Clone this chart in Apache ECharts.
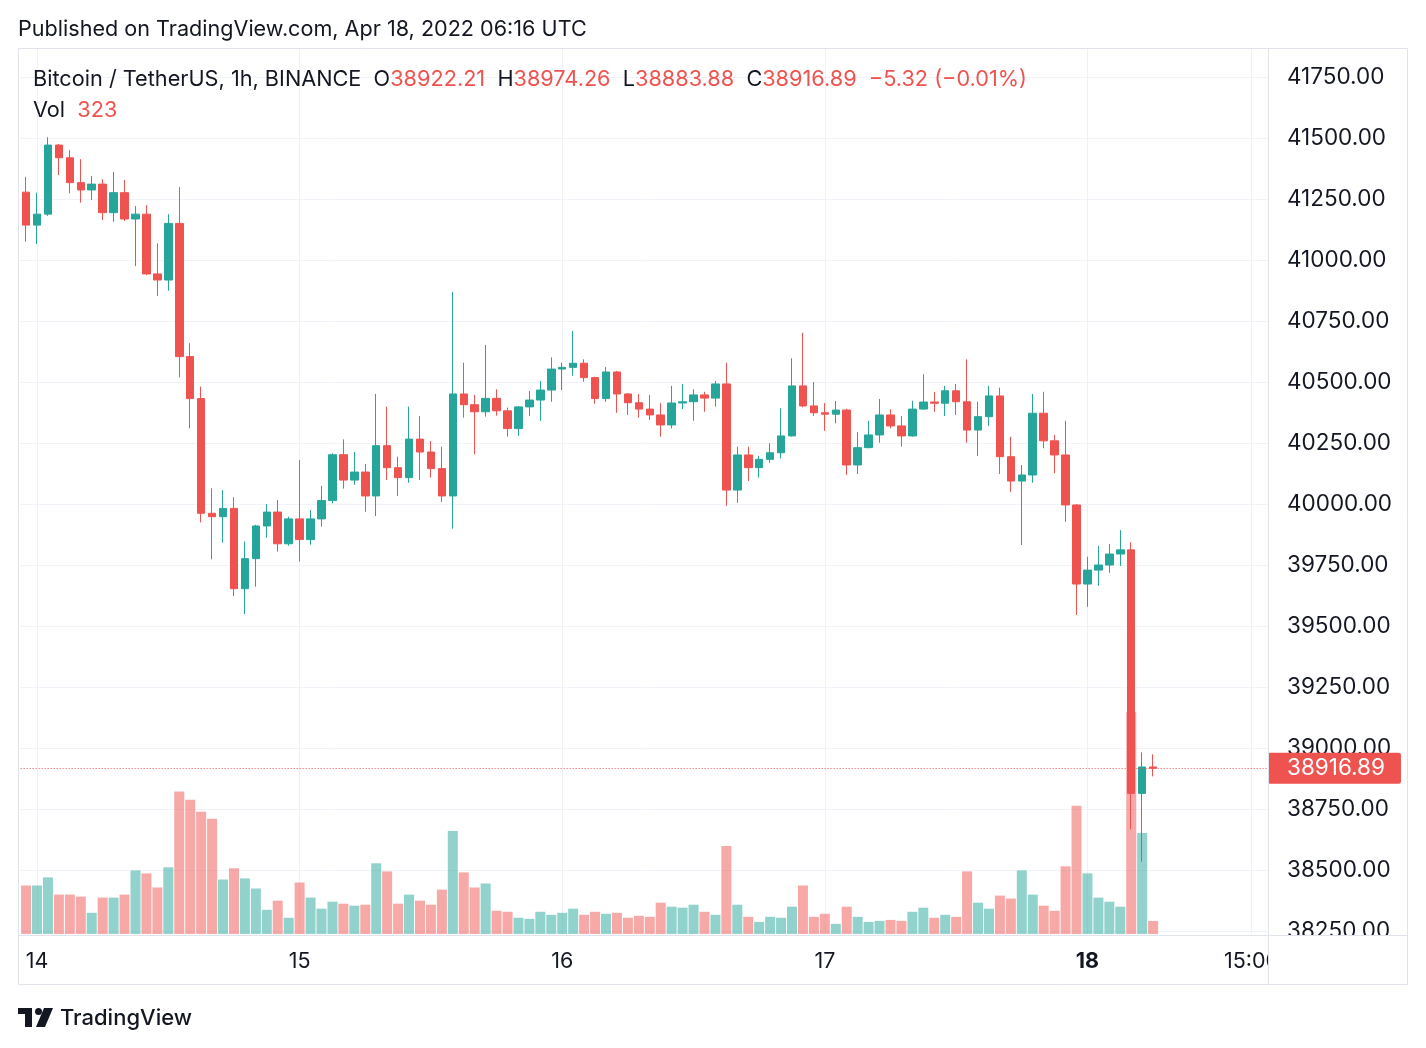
<!DOCTYPE html>
<html><head><meta charset="utf-8">
<script src="https://cdn.jsdelivr.net/npm/echarts@6/dist/echarts.min.js"></script>
<style>html,body{margin:0;padding:0;background:#fff}#c{width:1426px;height:1048px}</style>
</head><body><div id="c"></div>
<script>
// ---- DATA (Bitcoin / TetherUS 1h, 13 Apr 23:00 -> 18 Apr 06:00 UTC) ----
const open = [41278,41143,41188,41471,41419,41317,41287,41311,41194,41276,41168,41188,40943,40918,41150,40604,40432,39962,39948,39982,39653,39776,39910,39967,39837,39939,39854,39939,40014,40202,40098,40131,40033,40239,40149,40108,40266,40213,40145,40033,40451,40407,40378,40433,40382,40309,40398,40426,40467,40553,40560,40577,40518,40432,40541,40451,40415,40389,40365,40324,40414,40419,40447,40434,40492,40057,40201,40149,40183,40210,40279,40484,40402,40374,40368,40385,40160,40231,40283,40365,40320,40279,40389,40418,40413,40464,40419,40303,40358,40443,40194,40094,40119,40372,40259,40201,39996,39672,39729,39750,39795,39812,38814,38922.21];
const close = [41143,41188,41471,41419,41317,41287,41311,41194,41276,41168,41188,40943,40918,41150,40604,40432,39962,39948,39982,39653,39776,39910,39967,39837,39939,39854,39939,40014,40202,40098,40131,40033,40239,40149,40108,40266,40213,40145,40033,40451,40407,40378,40433,40382,40309,40398,40426,40467,40553,40560,40577,40518,40432,40541,40451,40415,40389,40365,40324,40414,40419,40447,40434,40492,40057,40201,40149,40183,40210,40279,40484,40402,40374,40368,40385,40160,40231,40283,40365,40320,40279,40389,40418,40413,40464,40419,40303,40358,40443,40194,40094,40119,40372,40259,40201,39996,39672,39729,39750,39795,39812,38814,38922.21,38916.89];
const low = [41075,41066,41180,41348,41273,41235,41246,41164,41157,41160,40975,40938,40852,40874,40519,40310,39925,39773,39841,39623,39549,39661,39862,39805,39829,39764,39833,39907,40003,40063,40079,39968,39951,40098,40033,40087,40098,40108,40008,39899,40354,40204,40358,40362,40276,40280,40361,40341,40419,40467,40526,40501,40411,40419,40374,40365,40354,40344,40276,40310,40389,40341,40378,40399,39993,40005,40094,40108,40169,40187,40276,40396,40361,40300,40331,40119,40123,40228,40251,40310,40235,40276,40386,40378,40361,40365,40251,40197,40320,40123,40050,39832,40087,40228,40126,39927,39545,39579,39665,39718,39746,38667,38534,38883.88];
const high = [41341,41276,41503,41475,41451,41413,41344,41331,41361,41328,41221,41225,41068,41188,41299,40659,40481,40064,40057,40028,39846,39915,40000,40016,39948,40180,39975,40074,40208,40265,40213,40164,40451,40399,40194,40399,40361,40258,40235,40869,40579,40447,40652,40470,40395,40402,40463,40504,40601,40579,40709,40593,40522,40561,40545,40455,40451,40447,40413,40484,40492,40470,40460,40504,40579,40235,40235,40197,40249,40392,40597,40702,40500,40413,40422,40390,40294,40341,40430,40388,40361,40423,40532,40460,40484,40492,40593,40419,40484,40477,40276,40160,40451,40460,40283,40341,40000,39784,39828,39836,39893,39843,38982,38974.26];
const volume = [1205,1205,1407,979,979,929,527,905,905,979,1580,1506,1156,1658,3539,3337,3037,2863,1354,1633,1382,1131,601,828,403,1280,905,629,803,753,703,728,1757,1556,753,979,828,728,1103,2560,1531,1156,1255,577,552,403,378,552,477,527,629,477,552,502,527,403,452,427,778,678,654,728,552,477,2184,728,427,301,427,403,678,1205,427,502,251,678,427,301,326,350,326,552,654,403,477,427,1556,778,629,954,880,1580,979,703,577,1682,3188,1506,905,803,678,5517,2510,323];
const priceTicks = [38250,38500,38750,39000,39250,39500,39750,40000,40250,40500,40750,41000,41250,41500,41750];
const tickCategories = ['14 00:00','15 00:00','16 00:00','17 00:00','18 00:00','18 15:00'];
const tickTexts = ['14','15','16','17','18','15:00'];
const symbolName = 'Bitcoin / TetherUS, 1h, BINANCE';
const lastVolume = 323;

// hourly category axis: 13 Apr 23:00 .. 18 Apr 16:00 (includes empty future slots)
const categories = [];
for (let i = 0; i < 114; i++) {
  const t = 23 + i;
  categories.push((13 + Math.floor(t / 24)) + ' ' + String(t % 24).padStart(2, '0') + ':00');
}

const UP = '#26a69a', DOWN = '#ef5350';
const UPV = 'rgba(38,166,154,0.5)', DOWNV = 'rgba(239,83,80,0.5)';
const FONT = 'Inter, "Noto Sans", sans-serif';
const TXT = '#131722';
const AX = 22.5;   // axis font size
const LG = 21.7;   // legend font size

const candles = open.map((o, i) => [o, close[i], low[i], high[i]]);
const vols = volume.map((v, i) => ({ value: v, itemStyle: { color: close[i] >= open[i] ? UPV : DOWNV } }));
const n = open.length;
const lastO = open[n-1], lastH = high[n-1], lastL = low[n-1], lastC = close[n-1];
const chg = lastC - lastO, chgPct = chg / lastO * 100;
const fmtSigned = v => (v < 0 ? '\u2212' : '+') + Math.abs(v).toFixed(2);

const chart = echarts.init(document.getElementById('c'), null, { renderer: 'canvas' });

const GL = 20.6, GR = 158, GT = 48;
const option = {
  animation: false,
  backgroundColor: '#ffffff',
  grid: [
    { left: GL, right: GR, top: GT, bottom: 1048 - 931 },
    { left: GL, right: GR, top: GT, bottom: 1048 - 934 }
  ],
  xAxis: [
    { type: 'category', gridIndex: 0, data: categories, boundaryGap: true,
      axisLine: { show: false }, axisTick: { show: false }, axisLabel: { show: false }, splitLine: { show: false } },
    { type: 'category', gridIndex: 1, data: categories, boundaryGap: true,
      axisLine: { show: false }, axisTick: { show: false }, splitLine: { show: false },
      axisLabel: {
        show: true, margin: 17, fontSize: 21.5, fontFamily: FONT, color: TXT,
        interval: (idx, val) => tickCategories.indexOf(val) >= 0,
        formatter: (val) => { const k = tickCategories.indexOf(val); const t = tickTexts[k]; return t === '18' ? '{b|' + t + '}' : t; },
        rich: { b: { fontWeight: 'bold', fontSize: 21.5, fontFamily: FONT, color: TXT } }
      } }
  ],
  yAxis: [
    { type: 'value', gridIndex: 0, position: 'right', min: priceTicks[0], max: 38250 + 883 / 0.244, interval: 250,
      axisLine: { show: false }, axisTick: { show: false },
      splitLine: { show: true, lineStyle: { color: '#f0f3fa', width: 1 } },
      axisLabel: { show: true, margin: 19, fontSize: AX, fontFamily: FONT, color: TXT, showMaxLabel: false,
        padding: [3, 0, 0, 0],
        formatter: v => priceTicks.indexOf(v) >= 0 ? v.toFixed(2) : '' } },
    { type: 'value', gridIndex: 1, min: 0, max: 886 * 24.85, show: false, splitLine: { show: false } }
  ],
  series: [
    { type: 'line', xAxisIndex: 1, yAxisIndex: 1, data: [], silent: true, z: 0,
      markLine: { silent: true, symbol: ['none', 'none'], z: 0, animation: false,
        label: { show: false },
        lineStyle: { color: '#eef1f6', type: 'solid', width: 1 },
        data: tickCategories.map(c => ({ xAxis: c })) } },
    { type: 'bar', name: 'Vol', xAxisIndex: 1, yAxisIndex: 1, data: vols, barWidth: 10, z: 1, silent: true },
    { type: 'candlestick', name: 'BTCUSDT', xAxisIndex: 0, yAxisIndex: 0, data: candles, barWidth: 8, z: 3,
      itemStyle: { color: UP, color0: DOWN, borderColor: UP, borderColor0: DOWN, borderWidth: 1 },
      markLine: { silent: true, symbol: ['none', 'none'], animation: false,
        data: [{ yAxis: lastC }],
        lineStyle: { color: DOWN, type: [1, 2], width: 1 },
        label: { show: true, position: 'end', distance: 0, formatter: lastC.toFixed(2),
          color: '#ffffff', backgroundColor: DOWN, fontSize: AX, fontFamily: FONT,
          padding: [5, 16, 3, 19], borderRadius: 2 } } }
  ],
  graphic: [
    { type: 'rect', z: 100, silent: true, shape: { x: 1269, y: 936, width: 138, height: 48 }, style: { fill: '#fff' } },
    { type: 'rect', z: 101, silent: true, shape: { x: 18.5, y: 48.5, width: 1389, height: 936 }, style: { fill: 'none', stroke: '#e0e3eb', lineWidth: 1 } },
    { type: 'line', z: 101, silent: true, shape: { x1: 1268.5, y1: 48, x2: 1268.5, y2: 985 }, style: { stroke: '#e0e3eb', lineWidth: 1 } },
    { type: 'line', z: 101, silent: true, shape: { x1: 18, y1: 935.5, x2: 1408, y2: 935.5 }, style: { stroke: '#e0e3eb', lineWidth: 1 } },
    { type: 'text', z: 102, x: 18, y: 29.5, style: { text: 'Published on TradingView.com, Apr 18, 2022 06:16 UTC', fill: TXT, font: '21.6px ' + FONT, verticalAlign: 'middle' } },
    { type: 'text', z: 102, x: 33, y: 79, style: {
        text: '{k|' + symbolName + '}  {k|O}{v|' + lastO.toFixed(2) + '}  {k|H}{v|' + lastH.toFixed(2) + '}  {k|L}{v|' + lastL.toFixed(2) + '}  {k|C}{v|' + lastC.toFixed(2) + '}  {v|' + fmtSigned(chg) + ' (' + fmtSigned(chgPct) + '%)}',
        verticalAlign: 'middle', font: LG + 'px ' + FONT,
        rich: { k: { fill: TXT, font: LG + 'px ' + FONT }, v: { fill: DOWN, font: LG + 'px ' + FONT } } } },
    { type: 'text', z: 102, x: 33, y: 110, style: {
        text: '{k|Vol}  {v|' + lastVolume + '}', verticalAlign: 'middle', font: LG + 'px ' + FONT,
        rich: { k: { fill: TXT, font: LG + 'px ' + FONT }, v: { fill: DOWN, font: LG + 'px ' + FONT } } } },
    // TradingView logo (approximation)
    { type: 'rect', z: 102, silent: true, shape: { x: 18, y: 1008, width: 14, height: 6 }, style: { fill: TXT } },
    { type: 'rect', z: 102, silent: true, shape: { x: 25, y: 1008, width: 7, height: 19 }, style: { fill: TXT } },
    { type: 'circle', z: 102, silent: true, shape: { cx: 38.5, cy: 1011.5, r: 3.5 }, style: { fill: TXT } },
    { type: 'polygon', z: 102, silent: true, shape: { points: [[44, 1008], [53, 1008], [45, 1027], [36, 1027]] }, style: { fill: TXT } },
    { type: 'text', z: 102, x: 60, y: 1018, style: { text: 'TradingView', fill: TXT, font: '500 22px ' + FONT, verticalAlign: 'middle' } }
  ]
};
chart.setOption(option);
</script>
</body></html>
